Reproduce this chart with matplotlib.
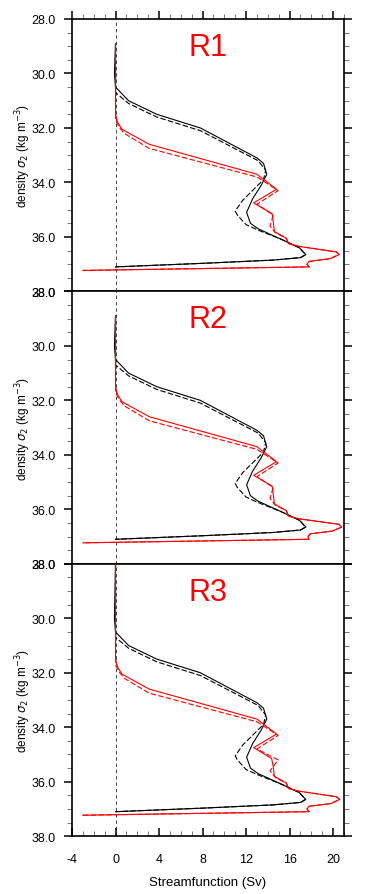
import matplotlib
matplotlib.use("Agg")
import matplotlib.pyplot as plt
from matplotlib.ticker import MultipleLocator, FormatStrFormatter

plt.rcParams['font.family'] = ['Liberation Sans', 'DejaVu Sans']
plt.rcParams['axes.unicode_minus'] = False

# ---------------- data ----------------
panel_names = ["R1", "R2", "R3"]
top_sigma = [28.9, 28.9, 28.0]   # density where curves start (vertical segment at 0)

# density grids (sigma_2) for each line type (first value replaced by top_sigma)
bs_sig = [28.9, 30.0, 30.5, 31.0, 31.5, 32.0, 33.1, 33.3, 33.7, 34.1, 34.6, 35.1,
          35.5, 35.7, 36.1, 36.4, 36.65, 36.76, 36.85, 36.97, 37.1]
bd_sig = [28.9, 30.7, 31.1, 31.6, 32.1, 33.2, 33.55, 33.9, 34.65, 35.05, 35.2,
          35.55, 35.75, 36.1, 36.4, 36.65, 36.76, 36.85, 36.97, 37.1]
rs_sig = [28.9, 31.5, 31.8, 32.05, 32.6, 33.7, 34.25, 34.75, 35.15, 35.45, 35.8,
          36.05, 36.25, 36.35, 36.55, 36.65, 36.8, 36.9, 37.0, 37.1, 37.23]
rd_sig = [28.9, 31.7, 31.95, 32.2, 32.75, 33.8, 34.3, 34.8, 35.2, 35.6, 35.85,
          36.05, 36.25, 36.35, 36.55, 36.65, 36.8, 36.9, 37.0, 37.1, 37.23]

# streamfunction (Sv) values, panel R1
r1_black_solid = [0, -0.1, 0, 1.2, 3.8, 7.8, 13.0, 13.6, 13.9, 13.4, 12.6, 12.05,
                  12.4, 13.1, 15.3, 16.9, 17.5, 17.0, 14.5, 8.0, 0]
r1_black_dash = [0, 0, 1.2, 3.8, 7.8, 13.1, 13.8, 13.6, 11.7, 11.0, 11.2,
                 12.0, 13.1, 15.3, 16.9, 17.45, 17.0, 14.5, 8.0, 0]
r1_red_solid = [0, 0, 0.2, 0.6, 3.1, 13.0, 14.8, 12.7, 14.4, 14.5, 14.6,
                15.7, 15.9, 16.9, 20.3, 20.55, 19.7, 17.8, 17.6, 17.8, -3.0]
r1_red_dash = [0, 0, 0.3, 0.8, 3.1, 13.0, 14.95, 13.0, 14.5, 14.2, 14.7,
               15.7, 15.9, 16.9, 20.3, 20.55, 19.7, 17.8, 17.6, 17.8, -3.0]

# panel R2
r2_black_solid = [0, -0.1, 0, 1.2, 3.8, 7.8, 13.0, 13.6, 13.9, 13.4, 12.6, 12.05,
                  12.4, 13.1, 15.3, 16.9, 17.5, 17.0, 14.5, 8.0, 0]
r2_black_dash = [0, 0, 1.2, 3.8, 7.8, 13.1, 13.8, 13.6, 11.7, 11.0, 11.2,
                 12.0, 13.1, 15.3, 16.9, 17.45, 17.0, 14.5, 8.0, 0]
r2_red_solid = [0, 0, 0.2, 0.6, 3.1, 13.0, 14.8, 12.7, 14.4, 14.5, 14.6,
                15.7, 15.9, 16.9, 20.5, 20.8, 19.9, 17.9, 17.7, 17.8, -3.0]
r2_red_dash = [0, 0, 0.3, 0.8, 3.1, 13.0, 14.95, 13.0, 14.5, 14.2, 14.7,
               15.7, 15.9, 16.9, 20.5, 20.8, 19.9, 17.9, 17.7, 17.8, -3.0]

# panel R3
r3_black_solid = [0, -0.1, 0, 1.2, 3.8, 7.8, 13.0, 13.6, 13.9, 13.4, 12.6, 12.05,
                  12.4, 13.1, 15.3, 16.9, 17.5, 17.0, 14.5, 8.0, 0]
r3_black_dash = [0, 0, 1.2, 3.8, 7.8, 13.1, 13.8, 13.6, 11.7, 11.0, 11.2,
                 12.0, 13.1, 15.3, 16.9, 17.45, 17.0, 14.5, 8.0, 0]
r3_red_solid = [0, 0, 0.2, 0.6, 3.1, 13.0, 14.8, 12.7, 14.35, 14.5, 14.6,
                15.7, 15.9, 16.9, 20.3, 20.6, 19.8, 17.8, 17.6, 17.8, -3.0]
r3_red_dash = [0, 0, 0.3, 0.8, 3.1, 13.0, 14.95, 13.0, 14.95, 14.2, 14.7,
               15.7, 15.9, 16.9, 20.3, 20.6, 19.8, 17.8, 17.6, 17.8, -3.0]

black_solid = [r1_black_solid, r2_black_solid, r3_black_solid]
black_dash = [r1_black_dash, r2_black_dash, r3_black_dash]
red_solid = [r1_red_solid, r2_red_solid, r3_red_solid]
red_dash = [r1_red_dash, r2_red_dash, r3_red_dash]

xlim = (-4, 21)
ylim = (28.0, 38.0)
x_ticks = [-4, 0, 4, 8, 12, 16, 20]
y_ticks = [28.0, 30.0, 32.0, 34.0, 36.0, 38.0]

# ---------------- figure ----------------
W, H = 365, 895
fig = plt.figure(figsize=(W / 100, H / 100), dpi=100)

left_px, right_px = 72, 344
tops = [20, 292.4, 564.8]
ph = 272.4

for i in range(3):
    top = tops[i]
    ax = fig.add_axes([left_px / W, 1 - (top + ph) / H, (right_px - left_px) / W, ph / H])
    ax.set_xlim(*xlim)
    ax.set_ylim(ylim[1], ylim[0])

    ax.axvline(0, color='#444444', lw=0.7, dashes=(3.5, 3), zorder=1)

    def sig(s):
        return [top_sigma[i]] + list(s[1:])

    ax.plot(black_dash[i], sig(bd_sig), color='black', lw=0.8, dashes=(5, 2), zorder=2)
    ax.plot(black_solid[i], sig(bs_sig), color='black', lw=0.8, zorder=3)
    ax.plot(red_dash[i], sig(rd_sig), color='red', lw=0.8, dashes=(5, 2), zorder=4)
    ax.plot(red_solid[i], sig(rs_sig), color='red', lw=0.8, zorder=5)

    ax.text(0.5, 0.898, panel_names[i], transform=ax.transAxes, color='red',
            fontsize=22, ha='center', va='center')

    for sp in ax.spines.values():
        sp.set_linewidth(1.2)

    ax.set_yticks(y_ticks)
    ax.yaxis.set_major_formatter(FormatStrFormatter('%.1f'))
    ax.yaxis.set_minor_locator(MultipleLocator(0.5))
    ax.tick_params(axis='y', which='major', direction='out', length=6, width=1.1,
                   left=True, right=True, labelsize=9, pad=5.5)
    ax.tick_params(axis='y', which='minor', direction='out', length=3.5, width=0.7,
                   left=True, right=True, color='#777777')
    ax.set_ylabel(r'density $\sigma_2$ (kg m$^{-3}$)', fontsize=8.5, labelpad=-1)

    ax.set_xticks(x_ticks)
    ax.xaxis.set_minor_locator(MultipleLocator(1))
    if i == 0:
        ax.tick_params(axis='x', which='major', direction='out', length=6, width=1.1,
                       top=True, bottom=False, labeltop=False, labelbottom=False)
        ax.tick_params(axis='x', which='minor', direction='out', length=3.5, width=0.7,
                       top=True, bottom=False, color='#777777')
    elif i == 1:
        ax.tick_params(axis='x', which='both', top=False, bottom=False,
                       labelbottom=False, labeltop=False)
    else:
        ax.tick_params(axis='x', which='major', direction='in', length=6, width=1.1,
                       top=False, bottom=True, labelsize=9, pad=12)
        ax.tick_params(axis='x', which='minor', direction='in', length=3.5, width=0.7,
                       top=False, bottom=True, color='#777777')
        ax.set_xlabel('Streamfunction (Sv)', fontsize=9.5, labelpad=8)

fig.savefig('out.png', dpi=100)
